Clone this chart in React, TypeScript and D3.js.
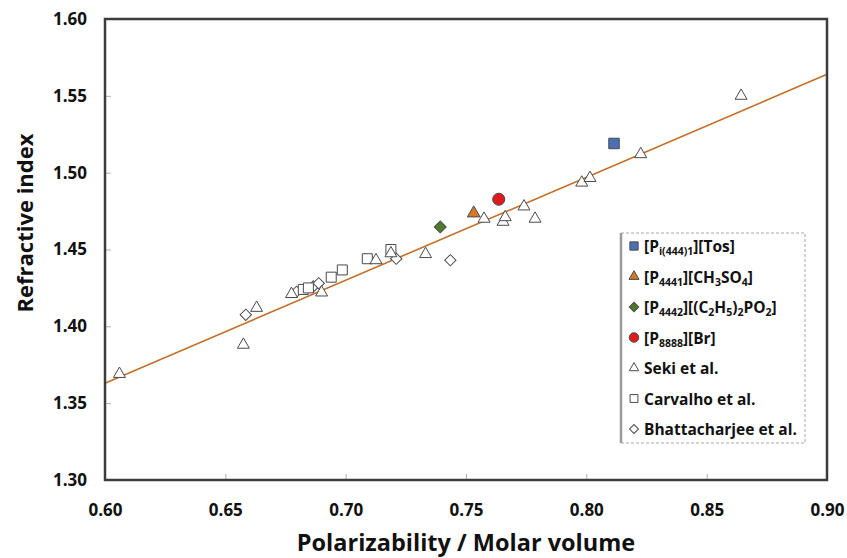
import * as React from 'react';
import * as d3 from 'd3';

// data
const xTicks = [0.6, 0.65, 0.7, 0.75, 0.8, 0.85, 0.9];
const yTicks = [1.3, 1.35, 1.4, 1.45, 1.5, 1.55, 1.6];

const seki: [number, number][] = [
  [0.606, 1.369], [0.6575, 1.388], [0.663, 1.412], [0.6775, 1.421], [0.690, 1.422],
  [0.7126, 1.443], [0.7188, 1.4475], [0.7332, 1.447], [0.7575, 1.470], [0.7654, 1.468],
  [0.7663, 1.471], [0.7741, 1.478], [0.7787, 1.470], [0.7981, 1.4935], [0.8015, 1.4965],
  [0.8226, 1.512], [0.8643, 1.550],
];
const carvalho: [number, number][] = [
  [0.6824, 1.424], [0.6845, 1.425], [0.694, 1.432], [0.6986, 1.4367], [0.709, 1.444], [0.7188, 1.450],
];
const bhattacharjee: [number, number][] = [
  [0.6585, 1.4075], [0.6796, 1.4225], [0.6866, 1.426], [0.6888, 1.428], [0.721, 1.444], [0.7435, 1.443],
];
const pTos: [number, number][] = [[0.8115, 1.519]];
const p4441: [number, number][] = [[0.7532, 1.4736]];
const p4442: [number, number][] = [[0.7393, 1.4647]];
const p8888: [number, number][] = [[0.7636, 1.4827]];
const fit: [number, number][] = [[0.6, 1.363], [0.9, 1.564]];

type Part = [string, boolean]; // text, subscript
const series = [
  { name: [['[P', false], ['i(444)1', true], ['][Tos]', false]] as Part[], data: pTos, shape: 'square', fill: '#4a6fb5', size: 110 },
  { name: [['[P', false], ['4441', true], ['][CH', false], ['3', true], ['SO', false], ['4', true], [']', false]] as Part[], data: p4441, shape: 'triangle', fill: '#d6782a', size: 70 },
  { name: [['[P', false], ['4442', true], ['][(C', false], ['2', true], ['H', false], ['5', true], [')', false], ['2', true], ['PO', false], ['2', true], [']', false]] as Part[], data: p4442, shape: 'diamond', fill: '#4e7a2c', size: 72 },
  { name: [['[P', false], ['8888', true], ['][Br]', false]] as Part[], data: p8888, shape: 'circle', fill: '#e0191e', size: 115 },
  { name: [['Seki et al.', false]] as Part[], data: seki, shape: 'triangle', fill: '#ffffff', size: 62 },
  { name: [['Carvalho et al.', false]] as Part[], data: carvalho, shape: 'square', fill: '#ffffff', size: 100 },
  { name: [['Bhattacharjee et al.', false]] as Part[], data: bhattacharjee, shape: 'diamond', fill: '#ffffff', size: 64 },
];

const font = '"Open Sans", Lato, sans-serif';

function symbolPath(shape: string, size: number) {
  const t = shape === 'triangle' ? d3.symbolTriangle : shape === 'circle' ? d3.symbolCircle : d3.symbolSquare;
  return d3.symbol().type(t).size(size)() as string;
}

export default function App() {
  const ref = React.useRef<SVGSVGElement>(null);

  React.useEffect(() => {
    const margin = { top: 19, right: 20, bottom: 78, left: 105 };
    const width = 847 - margin.left - margin.right;
    const height = 558 - margin.top - margin.bottom;

    const x = d3.scaleLinear().domain([0.6, 0.9]).range([0, width]);
    const y = d3.scaleLinear().domain([1.3, 1.6]).range([height, 0]);

    const root = d3.select(ref.current);
    root.selectAll('*').remove();
    const svg = root.append('g').attr('transform', `translate(${margin.left},${margin.top})`);

    const yAxis = svg.append('g')
      .call(d3.axisLeft(y).tickValues(yTicks).tickSize(-6).tickPadding(18).tickFormat(d3.format('.2f')));
    const xAxis = svg.append('g').attr('transform', `translate(0,${height})`)
      .call(d3.axisBottom(x).tickValues(xTicks).tickSize(-6).tickPadding(24).tickFormat(d3.format('.2f')));
    [xAxis, yAxis].forEach(a => {
      a.select('.domain').remove();
      a.selectAll('line').attr('stroke', '#b0b0b0');
      a.selectAll('text').attr('font-family', font).attr('font-weight', 700)
        .attr('font-size', 17).attr('fill', '#111');
    });

    // fit line
    svg.append('path').datum(fit)
      .attr('d', d3.line<[number, number]>().x(d => x(d[0])).y(d => y(d[1])))
      .attr('fill', 'none').attr('stroke', '#c4702a').attr('stroke-width', 1.6);

    // points
    series.slice().reverse().forEach(s => {
      svg.append('g').selectAll('path').data(s.data).join('path')
        .attr('d', symbolPath(s.shape, s.size))
        .attr('transform', d => `translate(${x(d[0])},${y(d[1])})${s.shape === 'diamond' ? ' rotate(45)' : ''}`)
        .attr('fill', s.fill).attr('stroke', '#4a4a4a').attr('stroke-width', 1);
    });

    // frame
    svg.append('rect').attr('width', width).attr('height', height)
      .attr('fill', 'none').attr('stroke', '#3c3c3c').attr('stroke-width', 2.5);

    // legend
    const lg = svg.append('g').attr('transform', `translate(${621 - margin.left},${233 - margin.top})`);
    lg.append('rect').attr('width', 184).attr('height', 210).attr('fill', '#fff')
      .attr('stroke', '#a8a8a8').attr('stroke-dasharray', '3,2').attr('stroke-width', 1);
    lg.append('line').attr('x1', 0).attr('x2', 0).attr('y1', 0).attr('y2', 210)
      .attr('stroke', '#9a9a9a').attr('stroke-width', 2.5);
    series.forEach((s, i) => {
      const row = lg.append('g').attr('transform', `translate(0,${13 + i * 30.5})`);
      row.append('path').attr('d', symbolPath(s.shape, s.size * 0.62))
        .attr('transform', `translate(13,0)${s.shape === 'diamond' ? ' rotate(45)' : ''}`)
        .attr('fill', s.fill).attr('stroke', '#4a4a4a').attr('stroke-width', 1);
      const t = row.append('text').attr('x', 23).attr('y', 6)
        .attr('font-family', font).attr('font-weight', 700).attr('font-size', 15.5).attr('fill', '#111');
      let sub = false;
      s.name.forEach(([txt, isSub]) => {
        const dy = isSub === sub ? 0 : isSub ? 3 : -3;
        t.append('tspan').attr('dy', dy).attr('font-size', isSub ? 10.5 : 15.5).text(txt);
        sub = isSub;
      });
    });

    // axis titles
    svg.append('text').attr('x', width / 2).attr('y', height + 71).attr('text-anchor', 'middle')
      .attr('font-family', font).attr('font-weight', 700).attr('font-size', 23.5).attr('fill', '#111')
      .text('Polarizability / Molar volume');
    svg.append('text').attr('transform', `translate(${33 - margin.left},${223 - margin.top}) rotate(-90)`).attr('text-anchor', 'middle')
      .attr('font-family', font).attr('font-weight', 700).attr('font-size', 22).attr('fill', '#111')
      .text('Refractive index');
  }, []);

  return <svg ref={ref} width={847} height={558} style={{ position: 'absolute', left: 0, top: 0, background: '#fff' }} />;
}
